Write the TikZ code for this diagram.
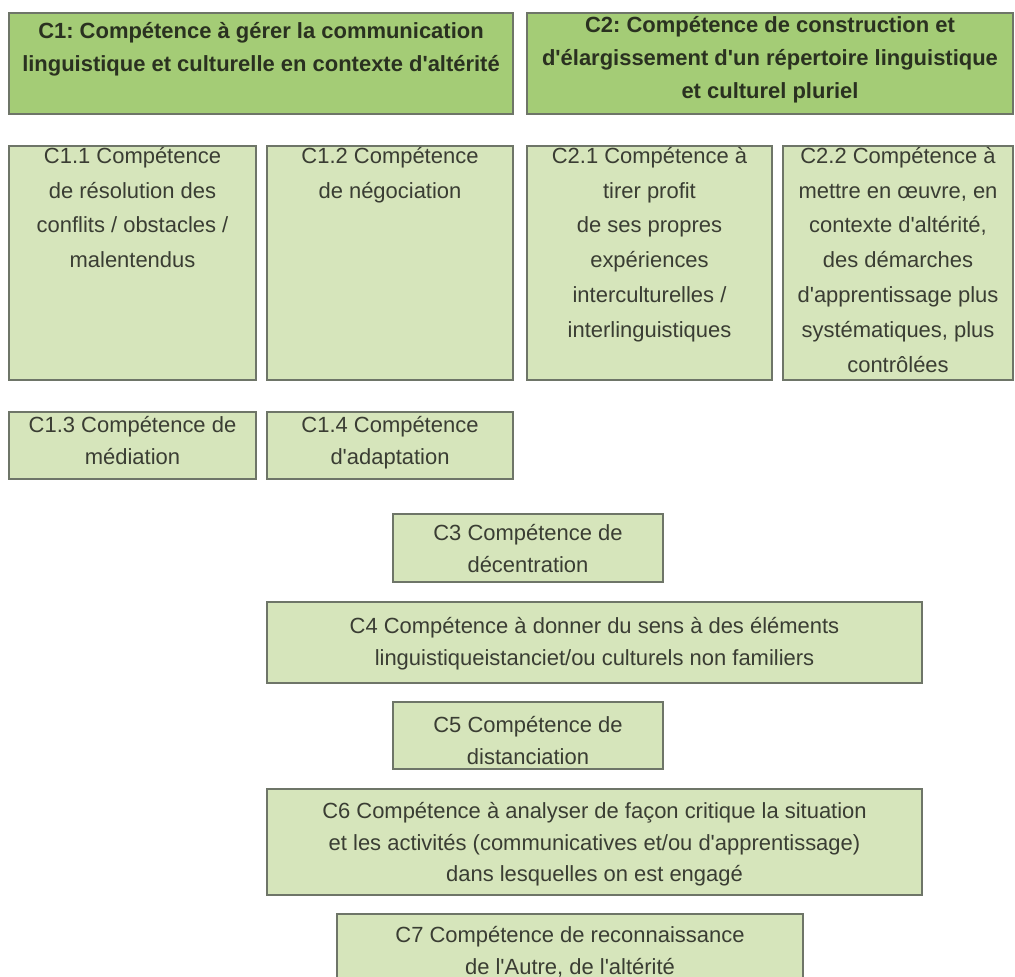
\documentclass[tikz,border=0pt]{standalone}
\usepackage{fontspec}
\setmainfont{Liberation Sans}
\frenchspacing
\definecolor{hdfill}{HTML}{A4CC76}
\definecolor{bxfill}{HTML}{D6E5BB}
\definecolor{bxline}{HTML}{6E7568}
\definecolor{txtc}{HTML}{3A3D33}
\definecolor{hdtxt}{HTML}{2A3120}
\newcommand{\toprule}{\rule{0pt}{0.46cm}}
\newcommand{\ap}{\textquotesingle}
\tikzset{
  hd/.style={draw=bxline,fill=hdfill,line width=1.1pt},
  bx/.style={draw=bxline,fill=bxfill,line width=1.1pt},
  lbl/.style={anchor=north,align=center,inner sep=0pt,text=txtc,font=\fontsize{12.5}{19.8}\selectfont},
  smlbl/.style={lbl,font=\fontsize{12.5}{18.1}\selectfont},
  hdlbl/.style={lbl,text=hdtxt,font=\fontsize{12.5}{18.8}\selectfont\bfseries}
}
\begin{document}
\begin{tikzpicture}[x=0.02cm,y=-0.02cm]
\pgfmathsetmacro{\hs}{23}
\useasboundingbox (0,0) rectangle (1015,977);
\foreach \n/\xa/\ya/\xb/\yb/\yt/\txt in {c1/9/13/513/114/38/{C1: Compétence à gérer la communication\\linguistique et culturelle en contexte d\ap altérité},c2/527/13/1013/114/32/{C2: Compétence de construction et\\d\ap élargissement d\ap un répertoire linguistique\\et culturel pluriel}}{\draw[hd](\xa,\ya) rectangle (\xb,\yb); \node[hdlbl] (\n) at ({(\xa+\xb)/2},\yt-\hs) {\toprule\txt};}
\foreach \n/\xa/\ya/\xb/\yb/\yt/\txt in {c11/9/146/256/380/163/{C1.1 Compétence\\de résolution des\\conflits / obstacles /\\malentendus},c12/267/146/513/380/163/{C1.2 Compétence\\de négociation},c21/527/146/772/380/163/{C2.1 Compétence à\\tirer profit\\de ses propres\\expériences\\interculturelles /\\interlinguistiques},c22/783/146/1013/380/163/{C2.2 Compétence à\\mettre en œuvre, en\\contexte d\ap altérité,\\des démarches\\d\ap apprentissage plus\\systématiques, plus\\contrôlées}}{\draw[bx](\xa,\ya) rectangle (\xb,\yb); \node[lbl] (\n) at ({(\xa+\xb)/2},\yt-\hs) {\toprule\txt};}
\foreach \n/\xa/\ya/\xb/\yb/\yt/\txt in {c13/9/412/256/479/432/{C1.3 Compétence de\\médiation},c14/267/412/513/479/432/{C1.4 Compétence\\d\ap adaptation},c3/393/514/663/582/540/{C3 Compétence de\\décentration},c4/267/602/922/683/633/{C4 Compétence à donner du sens à des éléments\\linguistiqueistanciet/ou culturels non familiers},c5/393/702/663/769/732/{C5 Compétence de\\distanciation},c6/267/789/922/895/818/{C6 Compétence à analyser de façon critique la situation\\et les activités (communicatives et/ou d\ap apprentissage)\\dans lesquelles on est engagé},c7/337/914/803/990/942/{C7 Compétence de reconnaissance\\de l\ap Autre, de l\ap altérité}}{\draw[bx](\xa,\ya) rectangle (\xb,\yb); \node[smlbl] (\n) at ({(\xa+\xb)/2},\yt-\hs) {\toprule\txt};}
\end{tikzpicture}
\end{document}
